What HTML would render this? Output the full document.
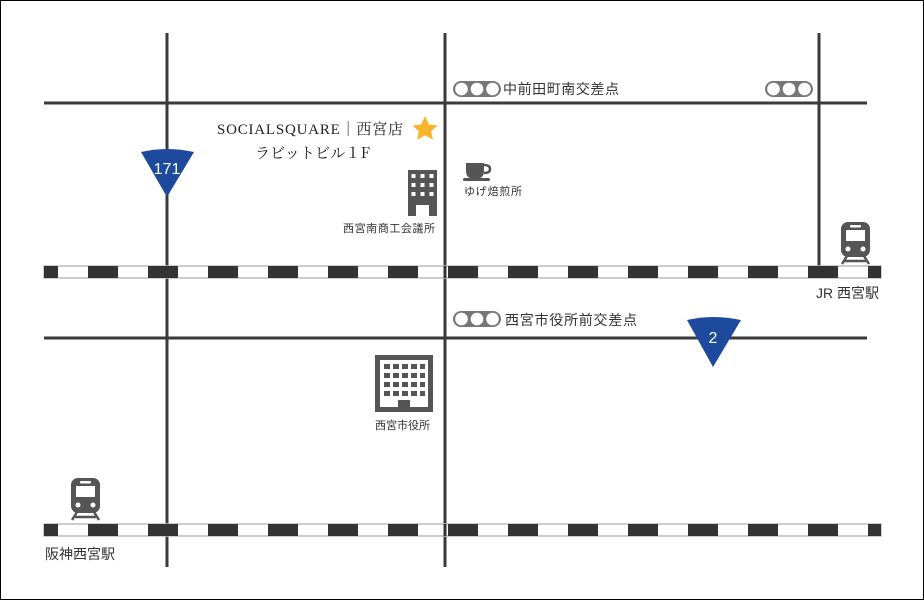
<!DOCTYPE html>
<html><head><meta charset="utf-8"><style>
body{margin:0;background:#fff}
svg{display:block}
text{font-family:"Liberation Sans","Noto Sans CJK JP",sans-serif;fill:#333}
</style></head><body>
<svg width="924" height="600" viewBox="0 0 924 600">
<defs>
<g id="tl">
 <rect x="0" y="0" width="48" height="16" rx="8" fill="#777"/>
 <circle cx="8.5" cy="8" r="6.3" fill="#fff"/>
 <circle cx="24" cy="8" r="6.3" fill="#fff"/>
 <circle cx="39.5" cy="8" r="6.3" fill="#fff"/>
</g>
<g id="train" fill="#555">
 <rect x="0" y="0" width="29" height="35" rx="7"/>
 <rect x="5" y="8" width="19" height="11" fill="#fff"/>
 <rect x="9" y="3" width="11" height="2.5" rx="1" fill="#fff"/>
 <circle cx="7" cy="27" r="2.5" fill="#fff"/>
 <circle cx="22" cy="27" r="2.5" fill="#fff"/>
 <path d="M6 34 L1 42 M23 34 L28 42 M4 39 H25" stroke="#555" stroke-width="2.5" fill="none"/>
</g>
<g id="rail">
 <rect x="44" y="0" width="837" height="12" fill="#fff" stroke="#bbb" stroke-width="1.5"/>
 <rect x="44" y="0" width="14" height="12" fill="#333"/>
</g>
</defs>
<rect x="0.5" y="0.5" width="923" height="599" fill="#fff" stroke="#000"/>
<g stroke="#3a3a3a" stroke-width="3">
 <line x1="167" y1="33" x2="167" y2="567"/>
 <line x1="445" y1="33" x2="445" y2="567"/>
 <line x1="819" y1="33" x2="819" y2="266"/>
 <line x1="44" y1="103" x2="867" y2="103"/>
 <line x1="44" y1="338" x2="867" y2="338"/>
</g>
<g transform="translate(0,266)">
 <use href="#rail"/>
 <g fill="#333" id="dk">
  <rect x="88" y="0" width="30" height="12"/><rect x="148" y="0" width="30" height="12"/><rect x="208" y="0" width="30" height="12"/><rect x="268" y="0" width="30" height="12"/><rect x="328" y="0" width="30" height="12"/><rect x="388" y="0" width="30" height="12"/><rect x="448" y="0" width="30" height="12"/><rect x="508" y="0" width="30" height="12"/><rect x="568" y="0" width="30" height="12"/><rect x="628" y="0" width="30" height="12"/><rect x="688" y="0" width="30" height="12"/><rect x="748" y="0" width="30" height="12"/><rect x="808" y="0" width="30" height="12"/><rect x="868" y="0" width="13" height="12"/>
 </g>
</g>
<g transform="translate(0,524)">
 <use href="#rail"/>
 <use href="#dk"/>
</g>
<rect x="165.5" y="266" width="3" height="12" fill="#333"/>
<rect x="443.5" y="266" width="3" height="12" fill="#333"/>
<rect x="165.5" y="524" width="3" height="12" fill="#333"/>
<rect x="443.5" y="524" width="3" height="12" fill="#333"/>

<use href="#tl" x="453" y="81"/>
<use href="#tl" x="765" y="81"/>
<use href="#tl" x="453" y="311"/>
<text x="503" y="94" font-size="14" fill="#222" textLength="116">中前田町南交差点</text>
<text x="505" y="325" font-size="14" fill="#222" textLength="132">西宮市役所前交差点</text>

<text x="217" y="134" font-size="15" textLength="186" style="font-family:'Liberation Serif','Noto Serif CJK SC',serif;fill:#222">SOCIALSQUARE｜西宮店</text>
<text x="255" y="158" font-size="15" textLength="115" style="font-family:'Noto Serif CJK SC',serif;fill:#222">ラビットビル１F</text>
<polygon points="425,116 429,124.5 437.5,125.5 431.2,131.3 432.9,139.7 425,135.4 417.1,139.7 418.8,131.3 412.5,125.5 421,124.5" fill="#f7b52c"/>

<path d="M141 152 Q167 146 194 152 L167 197 Z" fill="#1e4a9e"/>
<text x="167" y="174" font-size="16" text-anchor="middle" style="fill:#fff">171</text>
<path d="M687 320 Q713 314 741 320 L713 367 Z" fill="#1e4a9e"/>
<text x="713" y="343" font-size="16" text-anchor="middle" style="fill:#fff">2</text>

<g fill="#555">
 <rect x="408" y="170" width="29" height="46"/>
 <rect x="416" y="205" width="13" height="11" fill="#fff"/>
</g>
<g fill="#fff">
 <rect x="411.5" y="174" width="4" height="4"/><rect x="420.5" y="174" width="4" height="4"/><rect x="429.5" y="174" width="4" height="4"/>
 <rect x="411.5" y="183" width="4" height="4"/><rect x="420.5" y="183" width="4" height="4"/><rect x="429.5" y="183" width="4" height="4"/>
 <rect x="411.5" y="192" width="4" height="4"/><rect x="420.5" y="192" width="4" height="4"/><rect x="429.5" y="192" width="4" height="4"/>
</g>
<text x="343" y="232" font-size="11" fill="#222" textLength="92">西宮南商工会議所</text>

<path d="M466 163 H484 V171 Q484 179 475 179 Q466 179 466 171 Z" fill="#555"/>
<path d="M484 165 Q490 165 490 169 Q490 173 484 173" stroke="#555" stroke-width="2.5" fill="none"/>
<rect x="463" y="178" width="27" height="3" rx="1.5" fill="#555"/>
<text x="464" y="195" font-size="11" fill="#222" textLength="58">ゆげ焙煎所</text>

<rect x="375" y="355" width="58" height="57" fill="#555"/>
<rect x="380" y="360" width="48" height="47" fill="#fff"/>
<g fill="#555">
 <rect x="384" y="364" width="6" height="5"/><rect x="393" y="364" width="6" height="5"/><rect x="402" y="364" width="6" height="5"/><rect x="411" y="364" width="6" height="5"/><rect x="420" y="364" width="5" height="5"/>
 <rect x="384" y="373" width="6" height="5"/><rect x="393" y="373" width="6" height="5"/><rect x="402" y="373" width="6" height="5"/><rect x="411" y="373" width="6" height="5"/><rect x="420" y="373" width="5" height="5"/>
 <rect x="384" y="382" width="6" height="5"/><rect x="393" y="382" width="6" height="5"/><rect x="402" y="382" width="6" height="5"/><rect x="411" y="382" width="6" height="5"/><rect x="420" y="382" width="5" height="5"/>
 <rect x="384" y="391" width="6" height="5"/><rect x="393" y="391" width="6" height="5"/><rect x="402" y="391" width="6" height="5"/><rect x="411" y="391" width="6" height="5"/><rect x="420" y="391" width="5" height="5"/>
 <rect x="398" y="400" width="12" height="8"/>
</g>
<text x="375" y="429" font-size="11" fill="#222">西宮市役所</text>

<use href="#train" x="841" y="222"/>
<use href="#train" x="71" y="478"/>
<text x="816" y="298" font-size="14" fill="#222">JR 西宮駅</text>
<text x="45" y="559" font-size="14" fill="#222">阪神西宮駅</text>
</svg>
</body></html>
